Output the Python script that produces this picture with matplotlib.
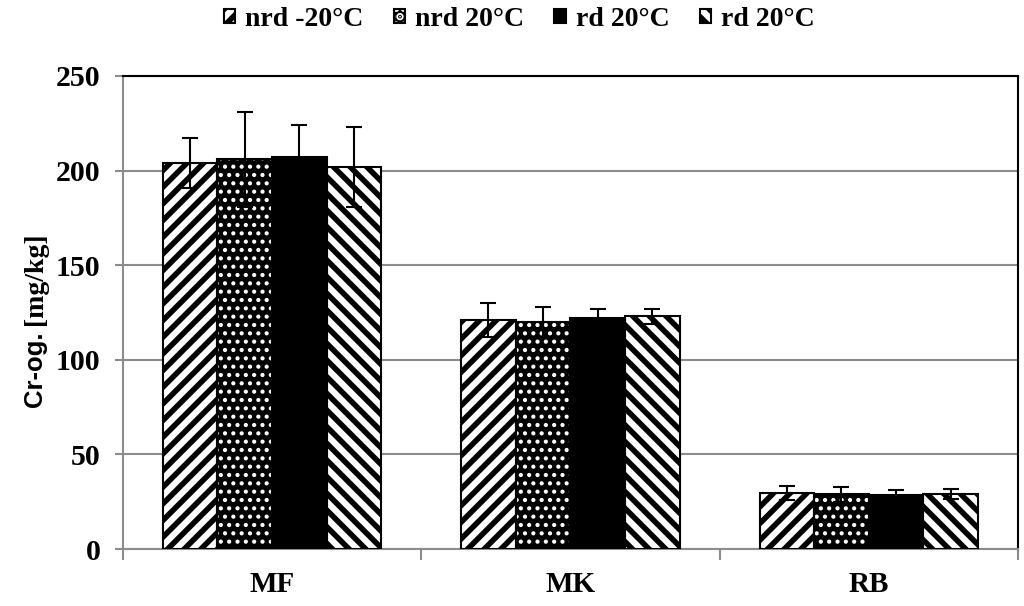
import matplotlib
matplotlib.use("Agg")
import matplotlib.pyplot as plt
from matplotlib.patches import Patch
import numpy as np

categories = ["MF", "MK", "RB"]
series = ["nrd -20°C", "nrd 20°C", "rd 20°C", "rd 20°C"]
values = [
    [204, 121, 29.6],
    [206, 120, 29.0],
    [207, 122, 28.5],
    [202, 123, 29.0],
]
errors = [
    [13, 9, 3.5],
    [25, 8, 4.0],
    [17, 5, 2.5],
    [21, 4, 2.5],
]
yticks = [0, 50, 100, 150, 200, 250]

plt.rcParams['font.family'] = ['Liberation Serif', 'DejaVu Serif']
plt.rcParams['font.weight'] = 'bold'
plt.rcParams['hatch.linewidth'] = 4.0

fig = plt.figure(figsize=(10.24, 6.06), dpi=100)
ax = fig.add_axes([0.120, 0.094, 0.874, 0.7806])

x = np.arange(len(categories))
w = 0.183
offsets = (np.arange(4) - 1.5) * w
styles = [
    dict(color='white', edgecolor='black', hatch='//', hlw=4.0),
    dict(color='black', edgecolor='white', hatch='..', hlw=1.8),
    dict(color='black', edgecolor='black', hatch=None, hlw=1.0),
    dict(color='white', edgecolor='black', hatch='\\\\', hlw=4.0),
]


def set_hlw(p, lw):
    try:
        p.set_hatch_linewidth(lw)
    except AttributeError:
        pass


handles = []
for i in range(4):
    st = styles[i]
    b = ax.bar(x + offsets[i], values[i], w, color=st['color'],
               edgecolor=st['edgecolor'], hatch=st['hatch'], linewidth=0,
               zorder=3)
    for p in b.patches:
        set_hlw(p, st['hlw'])
    ax.bar(x + offsets[i], values[i], w, fill=False, edgecolor='black',
           linewidth=1.5, zorder=4)
    ax.errorbar(x + offsets[i], values[i], yerr=errors[i], fmt='none',
                ecolor='black', elinewidth=1.5, capsize=6, capthick=1.5, zorder=5)
    hp = Patch(facecolor=st['color'], edgecolor=st['edgecolor'], hatch=st['hatch'], linewidth=0)
    set_hlw(hp, min(st['hlw'], 2.5))
    op = Patch(fill=False, edgecolor='black', linewidth=1.5)
    handles.append((hp, op))

ax.set_xlim(-0.5, 2.5)
ax.set_ylim(0, 250)
ax.set_yticks(yticks)
ax.set_yticklabels([str(t) for t in yticks], fontsize=21.5, fontweight='bold')
ax.yaxis.grid(True, color='#8c8c8c', linewidth=1.5, zorder=0)
ax.set_axisbelow(True)
ax.set_xticks(x)
ax.set_xticklabels(categories, fontsize=21, fontweight='bold')
ax.tick_params(axis='x', which='major', length=0, pad=16)
ax.set_xticks([-0.5, 0.5, 1.5, 2.5], minor=True)
ax.tick_params(axis='x', which='minor', length=8, width=1.5, color='#8c8c8c', direction='out')
ax.tick_params(axis='y', length=6, width=1.5, color='#8c8c8c', direction='out', pad=10)

for s in ['left', 'bottom']:
    ax.spines[s].set_color('#8c8c8c')
    ax.spines[s].set_linewidth(1.5)
ax.spines['top'].set_color('black')
ax.spines['top'].set_linewidth(1.5)
ax.spines['right'].set_color('black')
ax.spines['right'].set_linewidth(1.5)

# y label: sans part + serif part
fig.canvas.draw()
lx = 36 / 1024
t1 = fig.text(lx, 1 - 408 / 606, "Cr-og. ", rotation=90, ha='center', va='bottom',
              fontsize=18.5, fontweight='bold', family=['Liberation Sans', 'DejaVu Sans'])
fig.canvas.draw()
bb = t1.get_window_extent()
y2 = bb.y1 / fig.bbox.height
fig.text(lx, y2, "[mg/kg]", rotation=90, ha='center', va='bottom',
         fontsize=20, fontweight='bold')

fig.legend(handles=handles, labels=series, loc='center', bbox_to_anchor=(0.507, 0.968),
           ncol=4, frameon=False, handlelength=0.4, handleheight=0.4,
           handletextpad=0.36, columnspacing=1.1, prop={'weight': 'bold', 'size': 20})

fig.savefig("out.png", dpi=100)
